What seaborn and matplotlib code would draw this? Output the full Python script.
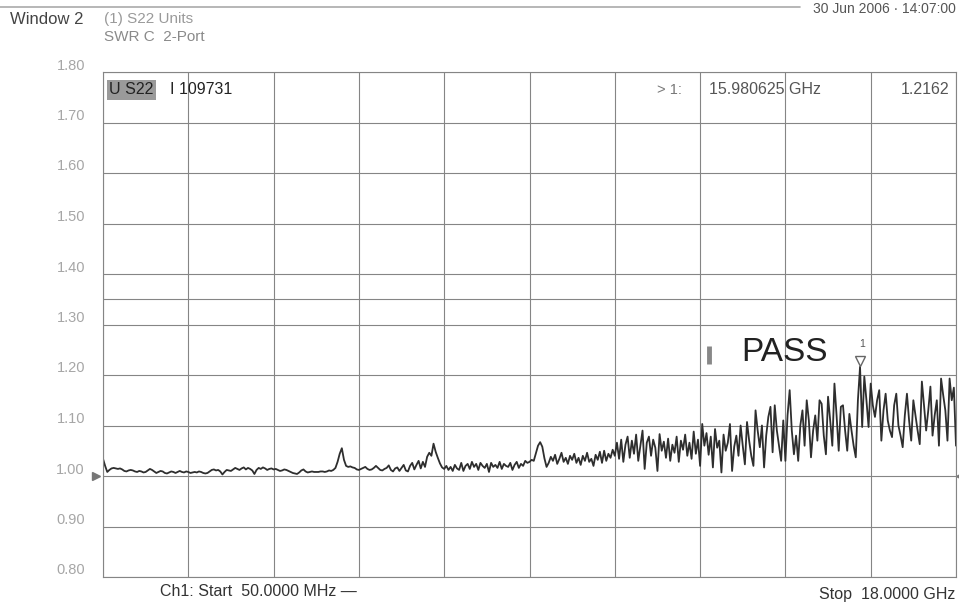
import numpy as np
import pandas as pd
import matplotlib.pyplot as plt
import seaborn as sns
from matplotlib.transforms import ScaledTranslation

# sweep settings (GHz)
start_ghz = 0.05
stop_ghz = 18.0
y_ticks = [0.80, 0.90, 1.00, 1.10, 1.20, 1.30, 1.40, 1.50, 1.60, 1.70, 1.80]
limit_swr = 1.35
marker_freq = 15.980625
marker_swr = 1.2162

# S22 SWR trace, 401 points
swr = [
    1.034, 1.020, 1.008, 1.012, 1.015, 1.016, 1.015, 1.014, 1.015, 1.013, 1.010, 1.009, 1.011, 1.012, 1.011, 1.009, 1.008, 1.010, 1.009, 1.007,
    1.008, 1.011, 1.014, 1.012, 1.009, 1.006, 1.008, 1.010, 1.009, 1.006, 1.005, 1.007, 1.009, 1.008, 1.006, 1.008, 1.010, 1.008, 1.007, 1.009,
    1.008, 1.006, 1.007, 1.008, 1.007, 1.009, 1.008, 1.006, 1.005, 1.006, 1.009, 1.012, 1.013, 1.011, 1.012, 1.009, 1.003, 1.008, 1.012, 1.011,
    1.010, 1.013, 1.016, 1.014, 1.012, 1.015, 1.017, 1.013, 1.016, 1.014, 1.011, 1.004, 1.012, 1.016, 1.014, 1.017, 1.015, 1.012, 1.014, 1.015,
    1.013, 1.014, 1.012, 1.010, 1.011, 1.013, 1.012, 1.010, 1.008, 1.006, 1.005, 1.004, 1.007, 1.011, 1.013, 1.009, 1.007, 1.008, 1.009, 1.008,
    1.008, 1.008, 1.009, 1.009, 1.008, 1.009, 1.011, 1.010, 1.012, 1.016, 1.028, 1.044, 1.055, 1.032, 1.020, 1.018, 1.019, 1.017, 1.016, 1.013,
    1.012, 1.014, 1.016, 1.018, 1.014, 1.012, 1.013, 1.016, 1.020, 1.016, 1.012, 1.011, 1.014, 1.016, 1.021, 1.012, 1.009, 1.015, 1.017, 1.010,
    1.016, 1.022, 1.011, 1.009, 1.020, 1.026, 1.013, 1.022, 1.030, 1.015, 1.028, 1.018, 1.038, 1.046, 1.040, 1.064, 1.048, 1.036, 1.025, 1.017,
    1.014, 1.020, 1.012, 1.018, 1.010, 1.022, 1.015, 1.012, 1.026, 1.010, 1.020, 1.024, 1.014, 1.028, 1.018, 1.024, 1.012, 1.026, 1.020, 1.016,
    1.024, 1.008, 1.026, 1.018, 1.022, 1.016, 1.028, 1.014, 1.024, 1.020, 1.018, 1.026, 1.012, 1.022, 1.028, 1.016, 1.024, 1.020, 1.030, 1.026,
    1.028, 1.032, 1.030, 1.045, 1.060, 1.067, 1.058, 1.035, 1.018, 1.026, 1.038, 1.030, 1.042, 1.024, 1.034, 1.046, 1.028, 1.036, 1.024, 1.040,
    1.032, 1.044, 1.026, 1.036, 1.022, 1.040, 1.030, 1.046, 1.028, 1.034, 1.020, 1.042, 1.032, 1.048, 1.026, 1.050, 1.030, 1.044, 1.036, 1.052,
    1.040, 1.066, 1.034, 1.072, 1.028, 1.062, 1.078, 1.036, 1.070, 1.044, 1.082, 1.030, 1.060, 1.090, 1.014, 1.066, 1.078, 1.040, 1.072, 1.056,
    1.010, 1.083, 1.050, 1.068, 1.036, 1.074, 1.030, 1.062, 1.046, 1.078, 1.028, 1.070, 1.052, 1.082, 1.040, 1.066, 1.034, 1.088, 1.044, 1.072,
    1.020, 1.103, 1.060, 1.085, 1.042, 1.078, 1.017, 1.093, 1.056, 1.070, 1.007, 1.082, 1.050, 1.066, 1.103, 1.010, 1.058, 1.080, 1.040, 1.100,
    1.060, 1.023, 1.107, 1.070, 1.040, 1.020, 1.130, 1.090, 1.057, 1.100, 1.017, 1.080, 1.117, 1.137, 1.047, 1.140, 1.090, 1.060, 1.030, 1.110,
    1.030, 1.120, 1.170, 1.090, 1.043, 1.080, 1.030, 1.100, 1.130, 1.060, 1.150, 1.110, 1.037, 1.090, 1.120, 1.070, 1.150, 1.143, 1.080, 1.043,
    1.157, 1.110, 1.060, 1.183, 1.120, 1.050, 1.137, 1.140, 1.090, 1.050, 1.123, 1.090, 1.060, 1.037, 1.150, 1.2162, 1.097, 1.197, 1.150, 1.097,
    1.183, 1.140, 1.117, 1.150, 1.170, 1.070, 1.130, 1.163, 1.110, 1.090, 1.077, 1.140, 1.163, 1.100, 1.080, 1.057, 1.120, 1.163, 1.110, 1.070,
    1.150, 1.120, 1.090, 1.063, 1.187, 1.140, 1.090, 1.130, 1.177, 1.080, 1.120, 1.150, 1.060, 1.193, 1.160, 1.130, 1.070, 1.193, 1.150, 1.175,
    1.060,
]

freq = np.linspace(start_ghz, stop_ghz, len(swr))
df = pd.DataFrame({'freq': freq, 'swr': swr})

sns.set_theme(style="white")
plt.rcParams['font.family'] = ['Liberation Sans', 'DejaVu Sans']

W, H = 959, 603
fig = plt.figure(figsize=(W / 100, H / 100), dpi=100)
ax = fig.add_axes([103 / W, 26 / H, 853 / W, 505 / H])

grid_col = '#858585'
sns.lineplot(data=df, x='freq', y='swr', ax=ax, color='#2e2e2e', linewidth=1.3)

ax.set_xlim(start_ghz, stop_ghz)
ax.set_ylim(0.8, 1.8)
ax.set_xticks(np.linspace(start_ghz, stop_ghz, 11))
ax.set_xticklabels([])
ax.set_yticks(y_ticks)
ax.set_yticklabels([f'{v:.2f}' for v in y_ticks], color='#a6a6a6', fontsize=10.5)
ax.tick_params(length=0)
ax.tick_params(axis='y', pad=13)
for lbl in ax.get_yticklabels():
    lbl.set_transform(lbl.get_transform() + ScaledTranslation(0, 0.08, fig.dpi_scale_trans))
ax.grid(True, color=grid_col, linewidth=0.8)
for sp in ax.spines.values():
    sp.set_color(grid_col)
    sp.set_linewidth(0.8)
ax.set_xlabel('')
ax.set_ylabel('')

# limit line
ax.axhline(limit_swr, color=grid_col, linewidth=0.8)

# reference position markers
ax.plot([-0.008], [1.0], marker='>', markersize=6, color='#777777',
        transform=ax.get_yaxis_transform(), clip_on=False)
ax.plot([1.004], [1.0], marker='<', markersize=4, color='#777777',
        transform=ax.get_yaxis_transform(), clip_on=False)

# marker 1
ax.plot([marker_freq], [marker_swr + 0.012], marker='v', markersize=7,
        markerfacecolor='white', markeredgecolor='#666666', linestyle='none')
ax.text(marker_freq + 0.04, marker_swr + 0.035, '1', fontsize=7.5, color='#555555',
        ha='center', va='bottom')

# PASS annotation
ax.plot([12.80, 12.80], [1.222, 1.258], color='#888888', linewidth=3.5, solid_capstyle='butt')
ax.text(14.40, 1.2455, 'PASS', fontsize=24, color='#222222', ha='center', va='center')

# header row inside the graticule
ax.text(0.007, 0.965, 'U S22', transform=ax.transAxes, fontsize=11.5, color='#222222',
        va='center', bbox=dict(boxstyle='square,pad=0.15', facecolor='#9a9a9a', edgecolor='none'))
ax.text(0.078, 0.965, 'I 109731', transform=ax.transAxes, fontsize=11.5, color='#222222', va='center')
ax.text(0.650, 0.965, '> 1:', transform=ax.transAxes, fontsize=10.5, color='#777777', va='center')
ax.text(0.711, 0.965, '15.980625 GHz', transform=ax.transAxes, fontsize=11.5, color='#555555', va='center')
ax.text(0.992, 0.965, '1.2162', transform=ax.transAxes, fontsize=11.5, color='#555555',
        va='center', ha='right')

# window header
fig.text(10 / W, 1 - 20 / H, 'Window 2', fontsize=12, color='#444444', va='center')
fig.text(104 / W, 1 - 19 / H, '(1) S22 Units', fontsize=11, color='#9a9a9a', va='center')
fig.text(104 / W, 1 - 37 / H, 'SWR C  2-Port', fontsize=11, color='#8a8a8a', va='center')
fig.text(956 / W, 1 - 2 / H, '30 Jun 2006 · 14:07:00', fontsize=10, color='#555555',
         va='top', ha='right')
fig.add_artist(plt.Line2D([0, 800 / W], [1 - 7 / H, 1 - 7 / H], color='#aaaaaa', linewidth=1.2))

# sweep footer
fig.text(160 / W, 1 - 592 / H, 'Ch1: Start  50.0000 MHz \u2014', fontsize=11.5, color='#333333', va='center')
fig.text(955 / W, 1 - 594 / H, 'Stop  18.0000 GHz', fontsize=11.5, color='#333333', va='center', ha='right')

fig.savefig('out.png', dpi=100)
